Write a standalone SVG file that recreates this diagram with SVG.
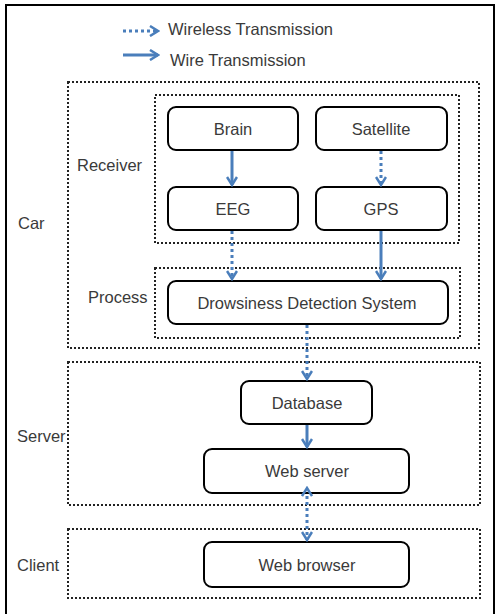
<svg xmlns="http://www.w3.org/2000/svg" width="495" height="614" viewBox="0 0 495 614">
<style>
text{font-family:"Liberation Sans",Arial,sans-serif;font-size:16.5px;fill:#3a3a3a}
.box{fill:#fff;stroke:#000;stroke-width:2}
.grp{fill:none;stroke:#222;stroke-width:2;stroke-dasharray:2 2}
.c{text-anchor:middle}
.wire{stroke:#4a7ebb;stroke-width:3;fill:none}
.wl{stroke:#4a7ebb;stroke-width:3;fill:none;stroke-dasharray:3 3}
</style>
<defs>
<marker id="ah" viewBox="0 0 12 12" refX="10" refY="6" markerWidth="12" markerHeight="12" markerUnits="userSpaceOnUse" orient="auto">
<polyline points="2,1 10,6 2,11" fill="none" stroke="#4a7ebb" stroke-width="2.5"/>
</marker>
<marker id="as" viewBox="0 0 12 12" refX="2" refY="6" markerWidth="12" markerHeight="12" markerUnits="userSpaceOnUse" orient="auto-start-reverse">
<polyline points="2,1 10,6 2,11" fill="none" stroke="#4a7ebb" stroke-width="2.5"/>
</marker>
</defs>
<rect x="0" y="0" width="495" height="614" fill="#fff"/>
<rect x="6" y="5" width="488" height="620" fill="none" stroke="#000" stroke-width="2"/>
<g id="legend">
<line class="wl" x1="123" y1="31" x2="158" y2="31" marker-end="url(#ah)"/>
<text x="168" y="35">Wireless Transmission</text>
<line class="wire" x1="123" y1="55" x2="158" y2="55" marker-end="url(#ah)"/>
<text x="170" y="66">Wire Transmission</text>
</g>
<g id="car"><rect class="grp" x="68" y="82" width="411" height="266"/><text x="18" y="229">Car</text></g>
<g id="receiver"><rect class="grp" x="155" y="95" width="304" height="148"/><text x="77" y="171">Receiver</text></g>
<g id="process"><rect class="grp" x="155" y="268" width="305" height="70"/><text x="88" y="303">Process</text></g>
<g id="server"><rect class="grp" x="68" y="362" width="412" height="143"/><text x="17" y="442">Server</text></g>
<g id="client"><rect class="grp" x="68" y="529" width="412" height="69"/><text x="17" y="571">Client</text></g>
<g id="brain"><rect class="box" x="168" y="107" width="130" height="43" rx="8"/><text class="c" x="233" y="135">Brain</text></g>
<g id="satellite"><rect class="box" x="316" y="107" width="131" height="43" rx="8"/><text class="c" x="381" y="135">Satellite</text></g>
<g id="eeg"><rect class="box" x="168" y="187" width="130" height="43" rx="8"/><text class="c" x="233" y="215">EEG</text></g>
<g id="gps"><rect class="box" x="316" y="187" width="131" height="43" rx="8"/><text class="c" x="381" y="215">GPS</text></g>
<g id="dds"><rect class="box" x="168" y="281" width="280" height="43" rx="8"/><text class="c" x="307" y="309">Drowsiness Detection System</text></g>
<g id="database"><rect class="box" x="241" y="381" width="131" height="43" rx="8"/><text class="c" x="307" y="409">Database</text></g>
<g id="webserver"><rect class="box" x="204" y="449" width="205" height="44" rx="8"/><text class="c" x="307" y="477">Web server</text></g>
<g id="webbrowser"><rect class="box" x="204" y="542" width="205" height="45" rx="8"/><text class="c" x="307" y="571">Web browser</text></g>
<g id="connectors">
<line class="wire" x1="232" y1="151" x2="232" y2="185" marker-end="url(#ah)"/>
<line class="wl" x1="381" y1="151" x2="381" y2="185" marker-end="url(#ah)"/>
<line class="wl" x1="232" y1="231" x2="232" y2="279" marker-end="url(#ah)"/>
<line class="wire" x1="381" y1="231" x2="381" y2="279" marker-end="url(#ah)"/>
<line class="wl" x1="307" y1="325" x2="307" y2="379" marker-end="url(#ah)"/>
<line class="wire" x1="307" y1="425" x2="307" y2="447" marker-end="url(#ah)"/>
<line class="wl" x1="307" y1="496" x2="307" y2="540" marker-start="url(#as)" marker-end="url(#ah)"/>
</g>
</svg>
